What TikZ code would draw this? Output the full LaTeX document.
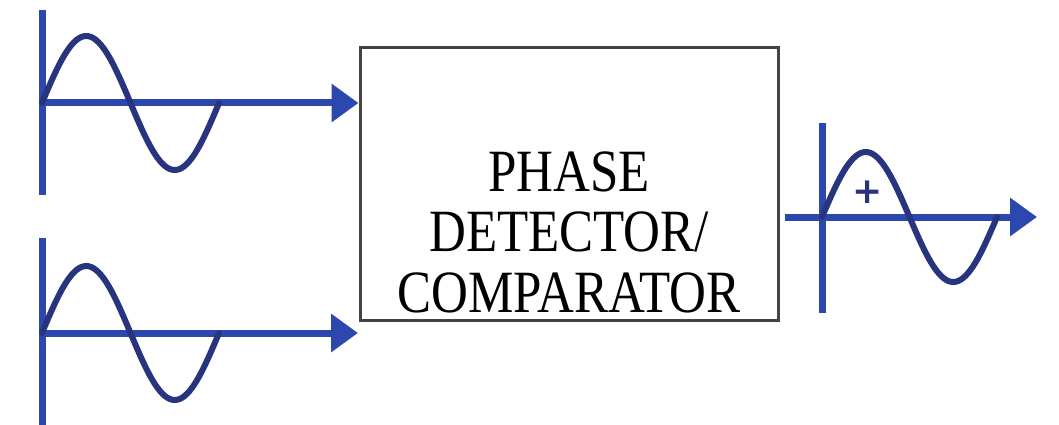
\documentclass[tikz,border=0pt]{standalone}
\usepackage{fontspec}
\setmainfont{Liberation Serif}
\newfontfamily\boxfont[FakeStretch=0.85]{Liberation Serif}
\newfontfamily\signfont{DejaVu Sans}
\usetikzlibrary{arrows.meta}
\definecolor{axisblue}{HTML}{2C48AE}
\definecolor{wavenavy}{HTML}{28357E}
\definecolor{boxgray}{HTML}{444444}
\begin{document}
\begin{tikzpicture}[x=1pt, y=-1pt,
  axisline/.style={draw=axisblue, line width=7pt},
  flow/.style={axisline, -{Triangle[length=27pt, width=37pt]}},
  sig/.style={draw=wavenavy, line width=6pt, line cap=round},
  blockbox/.style={draw=boxgray, line width=3pt, minimum width=418pt,
    minimum height=272pt, inner sep=0pt},
  blocktext/.style={font=\boxfont\fontsize{60}{60.5}\selectfont, align=center,
    inner sep=0pt},
  signmark/.style={font=\signfont\bfseries\fontsize{36}{36}\selectfont,
    text=wavenavy, inner sep=0pt}]
\useasboundingbox (0,0) rectangle (1059,425);

% phase detector block
\node[blockbox] (det) at (569,184) {};
\node[blocktext] (dettext) at (569,232) {PHASE\\DETECTOR/\\COMPARATOR};

% first input: reference signal
\coordinate (ref0) at (42,103);
\draw[axisline] (42,10) -- (42,195);
\draw[flow] (ref0) -- (det.west |- ref0);
\draw[sig] plot[domain=0:1, samples=73, smooth] ({42+177*\x},{103-67*sin(360*\x)});

% second input: feedback signal
\coordinate (fb0) at (42,333);
\coordinate (fb1) at (358,333);
\draw[axisline] (42,238) -- (42,425);
\draw[flow] (fb0) -- (fb1);
\draw[sig] plot[domain=0:1, samples=73, smooth] ({42+177*\x},{333-67*sin(360*\x)});

% output: error signal
\coordinate (out0) at (785,217);
\coordinate (out1) at (1037,217);
\draw[axisline] (822,123) -- (822,313);
\draw[flow] (out0) -- (out1);
\draw[sig] plot[domain=0:1, samples=73, smooth] ({822+175*\x},{217-65*sin(360*\x)});
\node[signmark] (plus) at (868,192) {+};
\end{tikzpicture}
\end{document}
